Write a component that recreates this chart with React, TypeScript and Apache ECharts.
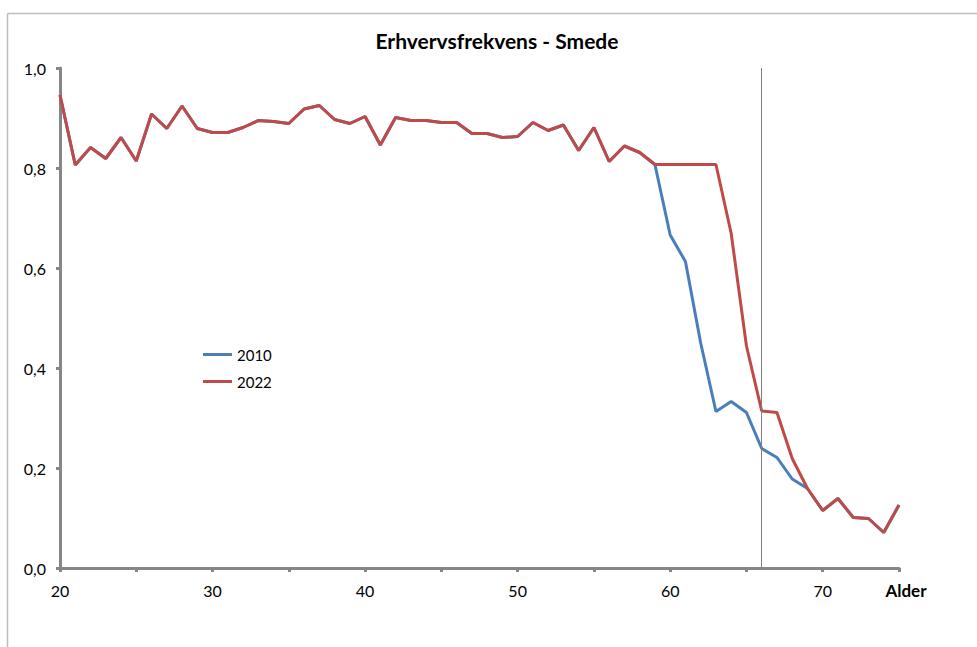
import React, { useEffect, useRef } from "react";
import * as echarts from "echarts";

const ages = [20, 21, 22, 23, 24, 25, 26, 27, 28, 29, 30, 31, 32, 33, 34, 35, 36, 37, 38, 39, 40, 41, 42, 43, 44, 45, 46, 47, 48, 49, 50, 51, 52, 53, 54, 55, 56, 57, 58, 59, 60, 61, 62, 63, 64, 65, 66, 67, 68, 69, 70, 71, 72, 73, 74, 75];

const values2010 = [0.946, 0.806, 0.841, 0.819, 0.861, 0.814, 0.908, 0.879, 0.924, 0.879, 0.871, 0.871, 0.881, 0.895, 0.893, 0.889, 0.918, 0.925, 0.897, 0.889, 0.903, 0.846, 0.901, 0.895, 0.895, 0.891, 0.891, 0.869, 0.869, 0.861, 0.863, 0.891, 0.875, 0.886, 0.835, 0.881, 0.813, 0.844, 0.831, 0.807, 0.666, 0.613, 0.45, 0.313, 0.333, 0.311, 0.239, 0.221, 0.178, 0.159, 0.115, 0.139, 0.101, 0.099, 0.071, 0.126];

const values2022 = [0.946, 0.806, 0.841, 0.819, 0.861, 0.814, 0.908, 0.879, 0.924, 0.879, 0.871, 0.871, 0.881, 0.895, 0.893, 0.889, 0.918, 0.925, 0.897, 0.889, 0.903, 0.846, 0.901, 0.895, 0.895, 0.891, 0.891, 0.869, 0.869, 0.861, 0.863, 0.891, 0.875, 0.886, 0.835, 0.881, 0.813, 0.844, 0.831, 0.807, 0.807, 0.807, 0.807, 0.807, 0.669, 0.444, 0.314, 0.311, 0.219, 0.159, 0.115, 0.139, 0.101, 0.099, 0.071, 0.126];

const seriesNames = ["2010", "2022"];
const markerAge = 66;
const titleText = "Erhvervsfrekvens - Smede";
const axisName = "Alder";

const FONT = "Lato, 'Open Sans', sans-serif";

export default function App() {
  const ref = useRef<HTMLDivElement>(null);
  useEffect(() => {
    if (!ref.current) return;
    const chart = echarts.init(ref.current, null, { renderer: "svg" });
    const axisColor = "#868686";
    chart.setOption({
      animation: false,
      backgroundColor: "#ffffff",
      textStyle: { fontFamily: FONT },
      graphic: [
        {
          type: "line",
          shape: { x1: 7.5, y1: 13.5, x2: 977, y2: 13.5 },
          style: { stroke: "#bdbdbd", lineWidth: 1.5 },
          silent: true,
        },
        {
          type: "line",
          shape: { x1: 7.5, y1: 13.5, x2: 7.5, y2: 647 },
          style: { stroke: "#bdbdbd", lineWidth: 1.5 },
          silent: true,
        },
        {
          type: "text",
          x: 497,
          y: 40,
          style: {
            text: titleText,
            fill: "#000",
            font: `bold 21px ${FONT}`,
            textAlign: "center",
            textVerticalAlign: "middle",
          },
        },
      ],
      legend: {
        orient: "vertical",
        left: 198,
        top: 341,
        icon: "rect",
        itemWidth: 29,
        itemHeight: 3,
        itemGap: 10,
        data: seriesNames,
        textStyle: { fontSize: 15, color: "#000", fontFamily: FONT, lineHeight: 17 },
      },
      grid: { left: 60, right: 78, top: 68, bottom: 79, containLabel: false },
      xAxis: {
        type: "value",
        min: 20,
        max: 75,
        interval: 5,
        splitLine: { show: false },
        axisLine: { lineStyle: { color: axisColor, width: 3 } },
        axisTick: { show: true, length: 4, lineStyle: { color: axisColor, width: 3 } },
        axisLabel: {
          margin: 14,
          color: "#000",
          fontSize: 16,
          fontFamily: FONT,
          showMaxLabel: true,
          showMinLabel: true,
          formatter: (v: number) => {
            if (v === 75) return "{b|" + axisName + "}";
            if (v % 10 === 0 && v <= 70) return String(v);
            return "";
          },
          rich: {
            b: { fontWeight: "bold", fontSize: 17, color: "#000", fontFamily: FONT, padding: [0, 0, 0, 14] },
          },
        },
      },
      yAxis: {
        type: "value",
        min: 0,
        max: 1,
        interval: 0.2,
        splitLine: { show: false },
        axisLine: { show: true, lineStyle: { color: axisColor, width: 3 } },
        axisTick: { show: true, length: 4, lineStyle: { color: axisColor, width: 3 } },
        axisLabel: {
          margin: 14,
          color: "#000",
          fontSize: 16,
          fontFamily: FONT,
          formatter: (v: number) => v.toFixed(1).replace(".", ","),
        },
      },
      series: [
        {
          name: seriesNames[0],
          type: "line",
          symbol: "none",
          data: ages.map((a, i) => [a, values2010[i]]),
          lineStyle: { color: "#4a7ebb", width: 3 },
          itemStyle: { color: "#4a7ebb" },
          z: 2,
        },
        {
          name: seriesNames[1],
          type: "line",
          symbol: "none",
          data: ages.map((a, i) => [a, values2022[i]]),
          lineStyle: { color: "#be4b48", width: 3 },
          itemStyle: { color: "#be4b48" },
          z: 3,
          markLine: {
            silent: true,
            symbol: ["none", "none"],
            label: { show: false },
            lineStyle: { color: "#808080", width: 1, type: "solid" },
            data: [{ xAxis: markerAge }],
          },
        },
      ],
    });
    return () => chart.dispose();
  }, []);
  return (
    <div
      ref={ref}
      style={{ position: "fixed", left: 0, top: 0, width: 977, height: 647 }}
    />
  );
}
